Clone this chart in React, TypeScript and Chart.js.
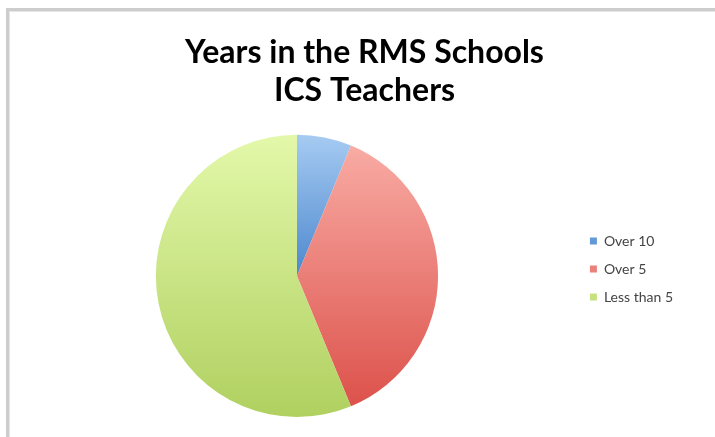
import React, { useEffect, useRef } from "react";
import { Chart, registerables } from "chart.js";

Chart.register(...registerables);

const titleLines = ["Years in the RMS Schools", "ICS Teachers"];
const categories = ["Over 10", "Over 5", "Less than 5"];
const values = [1, 6, 9];
const topColors = ["#a6cbf2", "#f8aba4", "#e3f8aa"];
const bottomColors = ["#4d88ce", "#dc524b", "#b0d060"];

function sliceYRange(index: number, cy: number, r: number): [number, number] {
  const total = values.reduce((a, b) => a + b, 0);
  let cum = 0;
  for (let i = 0; i < index; i++) cum += values[i];
  const a0 = -Math.PI / 2 + (2 * Math.PI * cum) / total;
  const a1 = -Math.PI / 2 + (2 * Math.PI * (cum + values[index])) / total;
  const ys = [cy, cy + r * Math.sin(a0), cy + r * Math.sin(a1)];
  const checks = [-Math.PI / 2, Math.PI / 2, (3 * Math.PI) / 2];
  for (const c of checks) {
    if (c >= a0 && c <= a1) ys.push(cy + r * Math.sin(c));
  }
  return [Math.min(...ys), Math.max(...ys)];
}

const framePlugin = {
  id: "frame",
  beforeDraw(chart: any) {
    const { ctx, width, height } = chart;
    ctx.save();
    ctx.fillStyle = "#ffffff";
    ctx.fillRect(0, 0, width, height);
    ctx.fillStyle = "#cdcdcd";
    ctx.fillRect(6, 8, width - 6, 3);
    ctx.fillRect(6, 8, 3, height - 8);
    ctx.fillStyle = "#e6e6e6";
    ctx.fillRect(9, 11, width - 9, 1);
    ctx.fillRect(9, 11, 1, height - 11);
    ctx.restore();
  },
};

export default function App() {
  const ref = useRef<HTMLCanvasElement | null>(null);

  useEffect(() => {
    if (!ref.current) return;
    const chart = new Chart(ref.current, {
      type: "pie",
      data: {
        labels: categories,
        datasets: [
          {
            data: values,
            borderWidth: 0,
            backgroundColor: (c: any) => {
              const i = c.dataIndex ?? 0;
              const area = c.chart.chartArea;
              if (!area) return topColors[i];
              const cy = (area.top + area.bottom) / 2;
              const r = Math.min(area.right - area.left, area.bottom - area.top) / 2;
              const [y0, y1] = sliceYRange(i, cy, r);
              const g = c.chart.ctx.createLinearGradient(0, y0, 0, y1);
              g.addColorStop(0, topColors[i]);
              g.addColorStop(1, bottomColors[i]);
              return g;
            },
          },
        ],
      },
      options: {
        responsive: false,
        animation: false,
        layout: { padding: { top: 0, bottom: 20, left: 18, right: 4 } },
        plugins: {
          title: {
            display: true,
            text: titleLines,
            color: "#000000",
            font: { family: "Lato", size: 32, weight: "bold", lineHeight: 1.2 },
            padding: { top: 33, bottom: 25 },
          },
          subtitle: {
            display: true,
            position: "right",
            text: " ",
            font: { family: "Lato", size: 10, lineHeight: 1 },
            padding: { top: 18, bottom: 0 },
          },
          legend: {
            display: true,
            position: "right",
            title: {
              display: true,
              text: " ",
              font: { family: "Lato", size: 10, lineHeight: 1 },
              padding: { top: 111, bottom: 0 },
            },
            labels: {
              boxWidth: 7,
              boxHeight: 7,
              padding: 14,
              color: "#444444",
              font: { family: "Lato", size: 14 },
            },
          },
          tooltip: { enabled: false },
        },
      },
      plugins: [framePlugin],
    });
    return () => chart.destroy();
  }, []);

  return (
    <div style={{ position: "fixed", left: 0, top: 0, width: 715, height: 437, background: "#fff" }}>
      <canvas ref={ref} width={715} height={437} style={{ display: "block" }} />
    </div>
  );
}
